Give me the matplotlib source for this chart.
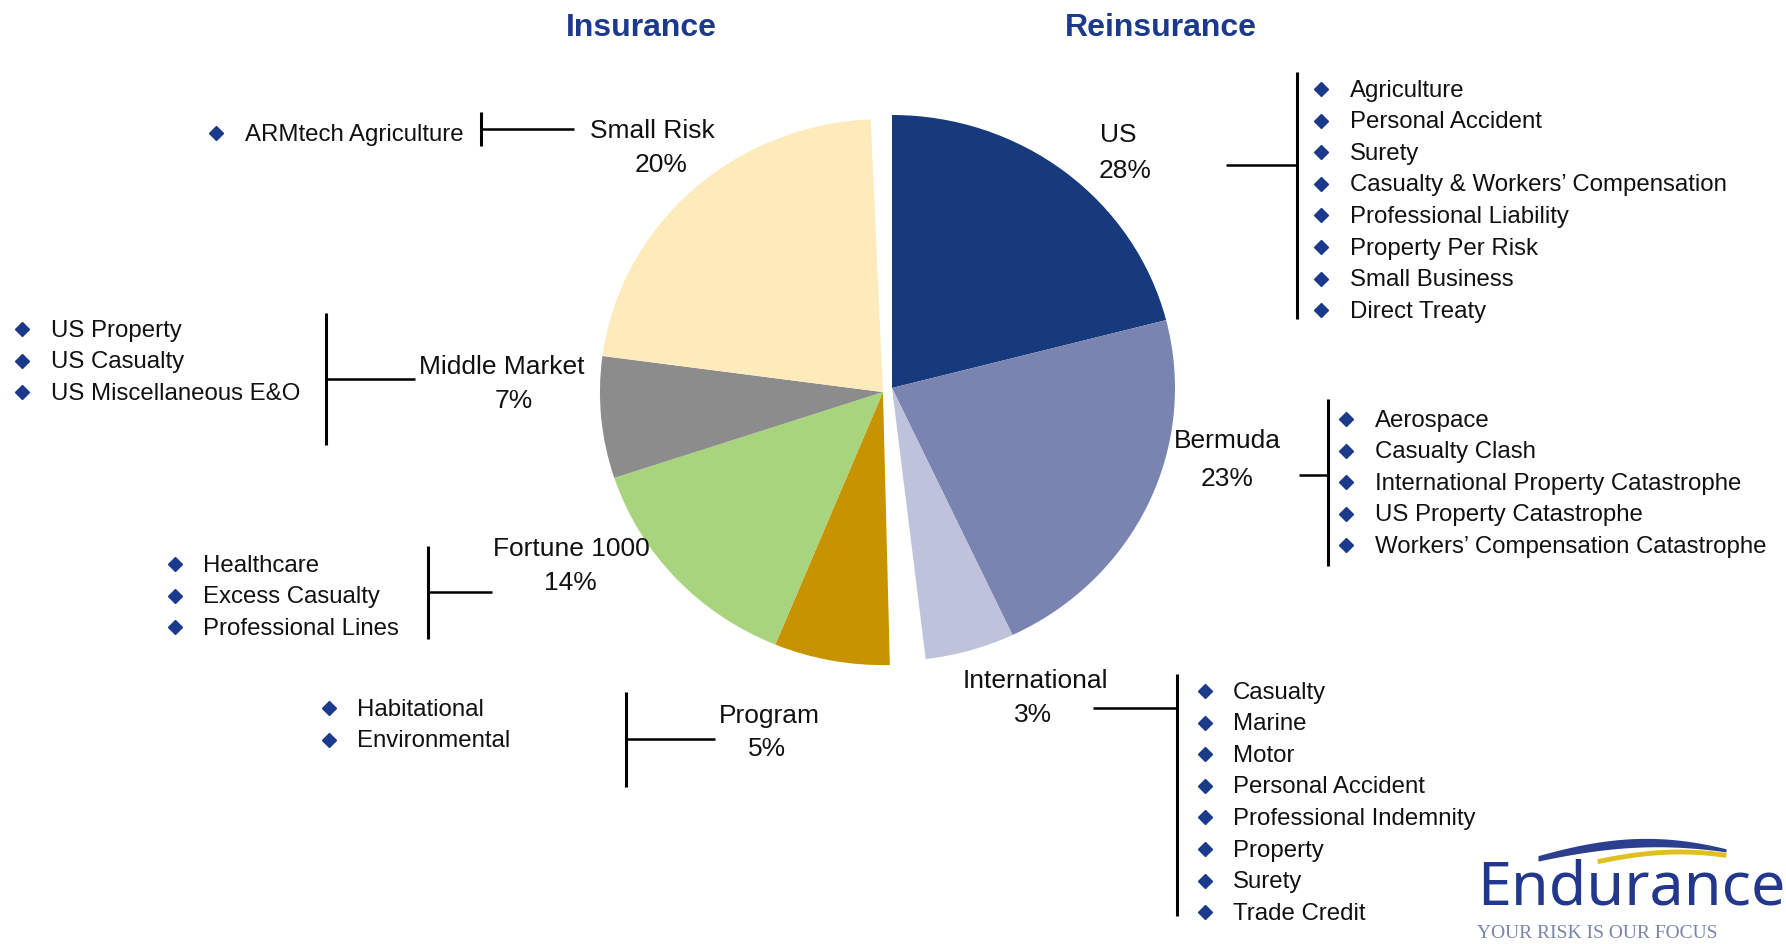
import numpy as np
import matplotlib
matplotlib.use("Agg")
import matplotlib.pyplot as plt

plt.rcParams["font.family"] = ["Liberation Sans", "DejaVu Sans"]

# slice shares as drawn (percent of the full circle)
reins_names = ["US", "Bermuda", "International"]
reins_shares = [21.0, 22.0, 5.1]
reins_labels = [28, 23, 3]
reins_colors = ["#163a7c", "#7a84b0", "#bfc2db"]

ins_names = ["Program", "Fortune 1000", "Middle Market", "Small Risk"]
ins_shares = [6.6, 13.7, 7.2, 22.2]
ins_labels = [5, 14, 7, 20]
ins_colors = ["#c79400", "#a8d47e", "#8c8c8c", "#fdebbb"]
ins_start = -88.6

us_lines = ["Agriculture", "Personal Accident", "Surety",
            "Casualty & Workers\u2019 Compensation", "Professional Liability",
            "Property Per Risk", "Small Business", "Direct Treaty"]
bermuda_lines = ["Aerospace", "Casualty Clash", "International Property Catastrophe",
                 "US Property Catastrophe", "Workers\u2019 Compensation Catastrophe"]
intl_lines = ["Casualty", "Marine", "Motor", "Personal Accident",
              "Professional Indemnity", "Property", "Surety", "Trade Credit"]
program_lines = ["Habitational", "Environmental"]
fortune_lines = ["Healthcare", "Excess Casualty", "Professional Lines"]
middle_lines = ["US Property", "US Casualty", "US Miscellaneous E&O"]
small_lines = ["ARMtech Agriculture"]

W, H = 1786, 944
NAVY = "#1b3a8c"
TXT = "#111111"
DY = 2.5  # small nudge so text sits like the original

fig = plt.figure(figsize=(W / 100, H / 100), dpi=100)

# pie (slightly wider than tall, like the original)
cx, cy, rx, ry = 892, 388, 283, 273
pax = fig.add_axes([(cx - rx) / W, (H - cy - ry) / H, 2 * rx / W, 2 * ry / H])
pax.pie([s / 100 for s in reins_shares], colors=reins_colors, startangle=90,
        counterclock=False, normalize=False, radius=1.0,
        wedgeprops=dict(linewidth=0))
pax.pie([s / 100 for s in ins_shares], colors=ins_colors, startangle=ins_start,
        counterclock=False, normalize=False, radius=1.0, center=(-0.032, -0.015),
        wedgeprops=dict(linewidth=0))
pax.set_aspect("auto")
pax.set_xlim(-1, 1)
pax.set_ylim(-1, 1)
pax.axis("off")

# overlay in pixel coordinates
ax = fig.add_axes([0, 0, 1, 1])
ax.set_xlim(0, W)
ax.set_ylim(H, 0)
ax.axis("off")

ax.text(641, 25 + 3.5, "Insurance", ha="center", va="center", fontsize=23,
        fontweight="bold", color=NAVY)
ax.text(1161, 25 + 3.5, "Reinsurance", ha="center", va="center", fontsize=23,
        fontweight="bold", color=NAVY)


def label(x, y1, y2, name, pct, dx=0):
    ax.text(x, y1 + DY, name, ha="center", va="center", fontsize=19, color=TXT)
    ax.text(x + dx, y2 + DY, "{}%".format(pct), ha="center", va="center",
            fontsize=19, color=TXT)


def bracket(hx0, hx1, hy, vx, vy0, vy1):
    ax.plot([hx0, hx1], [hy, hy], color="black", lw=1.8, solid_capstyle="butt")
    ax.plot([vx, vx], [vy0, vy1], color="black", lw=2.2, solid_capstyle="butt")


def bullets(items, bx, tx, y0, step=31.6):
    ys = y0 + step * np.arange(len(items))
    ax.plot([bx] * len(items), ys + 1, "D", color=NAVY, ms=7.5, ls="none")
    for y, t in zip(ys, items):
        ax.text(tx, y + DY, t, ha="left", va="center", fontsize=17.3, color=TXT)


# reinsurance
label(1118, 133, 169, reins_names[0], reins_labels[0], dx=7)
bracket(1226, 1297, 165, 1297, 72, 319)
bullets(us_lines, 1321, 1350, 88)

label(1227, 438, 477, reins_names[1], reins_labels[1])
bracket(1299, 1328, 475, 1328, 399, 566)
bullets(bermuda_lines, 1346, 1375, 418)

label(1035, 678, 712, reins_names[2], reins_labels[2], dx=-2)
bracket(1093, 1177, 708, 1177, 674, 916)
bullets(intl_lines, 1205, 1233, 690)

# insurance
label(769, 713, 747, ins_names[0], ins_labels[0], dx=-2)
bracket(626, 715, 739, 626, 692, 787)
bullets(program_lines, 329, 357, 707)

label(571, 546, 580, ins_names[1], ins_labels[1], dx=-1)
bracket(429, 492, 592, 428, 546, 639)
bullets(fortune_lines, 175, 203, 563)

label(502, 364, 399, ins_names[2], ins_labels[2], dx=12)
bracket(327, 415, 379, 326, 313, 445)
bullets(middle_lines, 22, 51, 328)

label(652, 129, 162, ins_names[3], ins_labels[3], dx=9)
bracket(481, 574, 129, 481, 112, 146)
bullets(small_lines, 216, 245, 132)

# logo
t = np.linspace(0, 1, 80)
x_sw = 1538 + 188 * t
ax.fill_between(x_sw, 866 - 30 * np.sin(np.pi * (0.15 + 0.85 * t) * 0.75) + 4 * t,
                868 - 20 * np.sin(np.pi * (0.15 + 0.85 * t) * 0.75) - 2 * t,
                color="#2c3f8f", lw=0)
ax.plot(1600 + 124 * t, 868 - 16 * np.sin(np.pi * (0.2 + 0.8 * t) * 0.7),
        color="#e0c020", lw=3.5)
ax.text(1631, 889, "Endurance", ha="center", va="center", fontsize=44,
        color="#23388c", family=["Noto Sans", "DejaVu Sans"])
ax.text(1597, 933, "YOUR RISK IS OUR FOCUS", ha="center", va="center", fontsize=14,
        color="#7a85a8", family=["Liberation Serif", "DejaVu Serif"])

fig.savefig("out.png", dpi=100)
